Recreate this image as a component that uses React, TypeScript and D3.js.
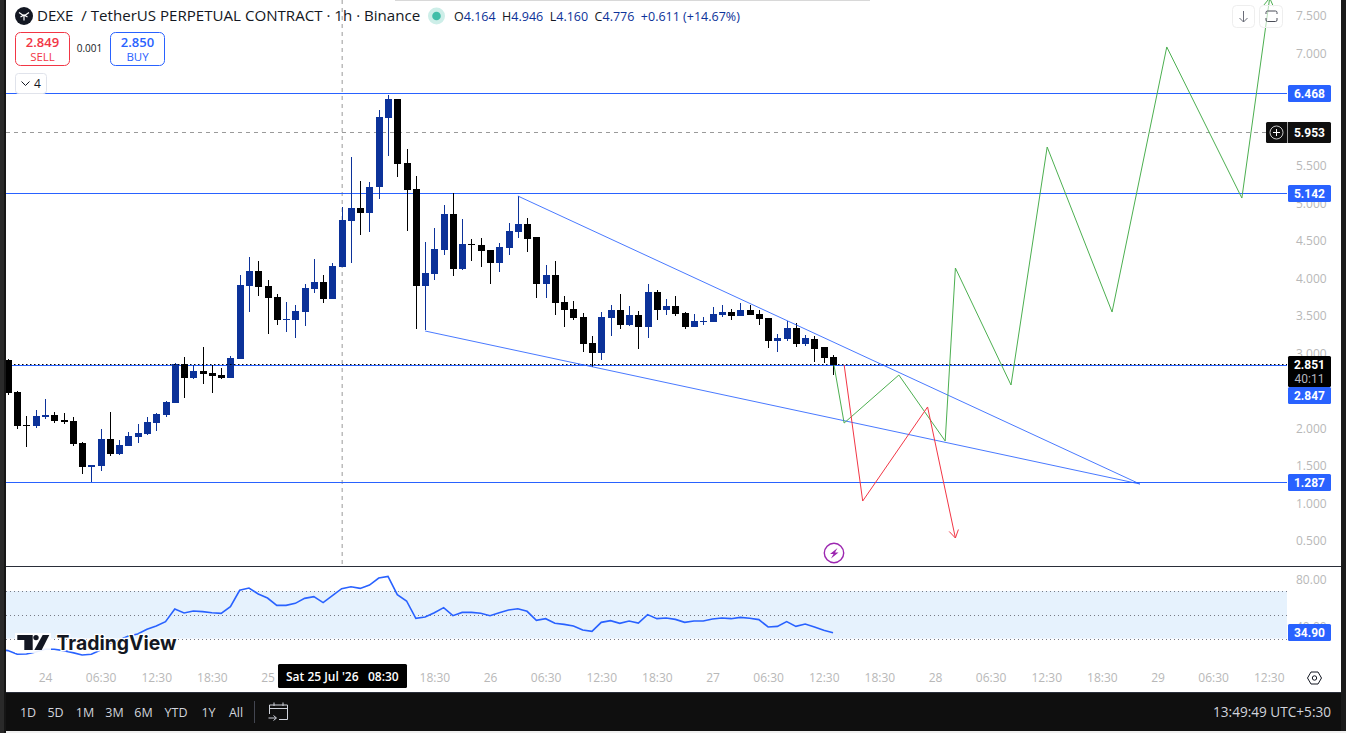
import { useEffect, useRef } from "react";
import * as d3 from "d3";

// candles are hourly, hour 0 is the "24" label on the time axis
const firstHour = -4;
const opens = [2.913, 2.487, 2.047, 2.033, 2.153, 2.18, 2.113, 2.1, 1.807, 1.487, 1.5, 1.86, 1.66, 1.767, 1.887, 1.927, 2.073, 2.18, 2.34, 2.86, 2.673, 2.767, 2.74, 2.713, 2.673, 2.927, 3.9, 4.1, 3.9, 3.753, 3.447, 3.447, 3.553, 3.86, 3.953, 3.727, 4.153, 4.767, 4.94, 4.873, 5.22, 6.14, 6.393, 5.54, 5.193, 3.9, 4.06, 4.38, 4.86, 4.127, 4.46, 4.447, 4.38, 4.207, 4.407, 4.62, 4.727, 4.553, 3.927, 4.047, 3.687, 3.593, 3.487, 3.14, 3.007, 3.473, 3.58, 3.38, 3.513, 3.353, 3.82, 3.58, 3.633, 3.54, 3.353, 3.42, 3.42, 3.513, 3.553, 3.5, 3.58, 3.527, 3.473, 3.167, 3.193, 3.34, 3.127, 3.193, 3.087, 2.953];
const highs = [2.927, 2.5, 2.167, 2.247, 2.393, 2.22, 2.207, 2.153, 1.82, 1.513, 1.993, 2.22, 1.847, 1.953, 2.06, 2.153, 2.207, 2.367, 2.873, 2.953, 2.847, 3.087, 2.847, 2.807, 2.967, 4.047, 4.287, 4.233, 3.98, 3.793, 3.687, 3.647, 3.927, 4.26, 4.047, 4.207, 4.953, 5.62, 5.3, 5.287, 6.247, 6.447, 6.393, 5.727, 5.367, 4.487, 4.673, 4.98, 5.14, 4.793, 4.527, 4.54, 4.38, 4.473, 4.74, 5.1, 4.807, 4.553, 4.18, 4.233, 3.767, 3.7, 3.54, 3.233, 3.553, 3.647, 3.793, 3.633, 3.567, 3.927, 3.847, 3.727, 3.767, 3.553, 3.527, 3.487, 3.62, 3.647, 3.593, 3.673, 3.647, 3.58, 3.473, 3.26, 3.433, 3.407, 3.247, 3.233, 3.087, 2.98];
const lows = [2.447, 1.993, 1.753, 2.007, 2.127, 2.073, 2.06, 1.767, 1.393, 1.287, 1.433, 1.633, 1.647, 1.767, 1.807, 1.913, 1.967, 2.153, 2.34, 2.407, 2.66, 2.593, 2.473, 2.66, 2.673, 2.927, 3.553, 3.767, 3.26, 3.38, 3.287, 3.207, 3.367, 3.807, 3.673, 3.727, 4.153, 4.207, 4.58, 4.62, 5.06, 5.633, 5.353, 4.633, 3.327, 3.313, 3.98, 4.313, 4.033, 4.113, 4.233, 4.153, 3.927, 4.087, 4.313, 4.54, 4.353, 3.74, 3.74, 3.513, 3.353, 3.447, 3.02, 2.82, 2.913, 3.233, 3.327, 3.367, 3.06, 3.207, 3.447, 3.513, 3.5, 3.327, 3.353, 3.38, 3.42, 3.487, 3.447, 3.5, 3.513, 3.38, 3.073, 3.02, 3.167, 3.087, 3.1, 2.887, 2.873, 2.713];
const closes = [2.473, 2.033, 2.033, 2.167, 2.18, 2.1, 2.087, 1.793, 1.487, 1.513, 1.86, 1.66, 1.78, 1.9, 1.94, 2.087, 2.193, 2.353, 2.86, 2.673, 2.767, 2.727, 2.7, 2.673, 2.94, 3.913, 4.1, 3.887, 3.74, 3.447, 3.46, 3.567, 3.873, 3.953, 3.727, 4.167, 4.78, 4.94, 4.873, 5.22, 6.153, 6.393, 5.527, 5.18, 3.9, 4.073, 4.393, 4.86, 4.127, 4.46, 4.447, 4.367, 4.207, 4.42, 4.633, 4.727, 4.527, 3.927, 4.047, 3.673, 3.58, 3.473, 3.127, 3.007, 3.487, 3.58, 3.38, 3.513, 3.353, 3.82, 3.58, 3.633, 3.527, 3.353, 3.433, 3.433, 3.527, 3.553, 3.5, 3.58, 3.513, 3.46, 3.167, 3.207, 3.34, 3.127, 3.207, 3.06, 2.94, 2.847];

// first value sits one bar left of the first candle, it only runs off the pane
const rsiValues = [21, 19.8, 16.7, 16.9, 18.6, 20.9, 20.9, 19.8, 18.1, 16.1, 16.7, 20.3, 25.9, 28.7, 32.1, 33.8, 37.7, 40.5, 44.2, 54.8, 51.5, 53.2, 52.6, 51.7, 51.2, 56.8, 70.6, 72.5, 67.5, 64.1, 57.9, 57.9, 59.6, 63.8, 65.2, 60.2, 66.1, 72, 73.6, 72.2, 75, 80.9, 82.3, 66.9, 61.6, 47, 48.1, 51.7, 56, 49.2, 52, 52, 51.2, 49.2, 51.7, 54, 55.1, 52.9, 45.3, 46.7, 42.8, 41.9, 40.5, 37.2, 36, 43.6, 45, 42.8, 44.7, 43, 50.1, 46.7, 47.3, 46.1, 43.6, 44.7, 44.7, 46.4, 47.3, 46.7, 47.8, 47, 45.9, 39.7, 40.2, 44.2, 40.2, 42.2, 39.7, 36.9, 34.9];

const priceTicks = [0.5, 1, 1.5, 2, 3, 4, 3.5, 4.5, 5, 5.5, 7, 7.5];
const rsiTicks = [80, 40];
const rsiLevels = [70, 50, 30];
const timeTicks = [0, 6, 12, 18, 24, 42, 48, 54, 60, 66, 72, 78, 84, 90, 96, 102, 108, 114, 120, 126, 132];
const timeLabels = ["24", "06:30", "12:30", "18:30", "25", "18:30", "26", "06:30", "12:30", "18:30", "27", "06:30", "12:30", "18:30", "28", "06:30", "12:30", "18:30", "29", "06:30", "12:30"];
const ranges = ["1D", "5D", "1M", "3M", "6M", "YTD", "1Y", "All"];
const rangeX = [28, 55.5, 85, 114.5, 143.5, 176, 208.5, 236];

// drawings: [hour, price]
const wedgeUpper: [number, number][] = [[51, 5.1], [118.1, 1.26]];
const wedgeLower: [number, number][] = [[41, 3.3], [118.1, 1.26]];
const greenPath: [number, number][] = [[85.1, 2.847], [86.2, 2.073], [92.1, 2.713], [97.1, 1.833], [98.2, 4.14], [104.2, 2.58], [108.1, 5.753], [115.1, 3.553], [121, 7.087], [129.1, 5.073], [132.1, 7.74]];
const redPath: [number, number][] = [[86.2, 2.847], [88.2, 1.033], [95.2, 2.287], [98.2, 0.54]];

const levels = [6.468, 5.142, 2.847, 1.287];
const crossPrice = 5.953;
const crossHour = 32;
const lastPrice = 2.851;

const x = d3.scaleLinear().domain([0, 24]).range([45, 267.5]);
const y = d3.scaleLinear().domain([0.5, 7.5]).range([541, 16]);
const rsiY = d3.scaleLinear().domain([30, 70]).range([638.5, 591]);

const FONT = '"Open Sans", sans-serif';
const TAG_FONT = "Roboto, sans-serif";
const UP = "#0c3299";
const DOWN = "#000000";
const BLUE = "#2962ff";
const AXIS_TEXT = "#b8b8b8";

const lineGen = d3.line<[number, number]>().x((d) => x(d[0])).y((d) => y(d[1]));

function arrowHead(pts: [number, number][]) {
    const a = pts[pts.length - 2];
    const b = pts[pts.length - 1];
    const x1 = x(a[0]), y1 = y(a[1]), x2 = x(b[0]), y2 = y(b[1]);
    const ang = Math.atan2(y2 - y1, x2 - x1);
    const len = 9;
    const p1 = [x2 - len * Math.cos(ang - 0.55), y2 - len * Math.sin(ang - 0.55)];
    const p2 = [x2 - len * Math.cos(ang + 0.55), y2 - len * Math.sin(ang + 0.55)];
    return `M${p1[0]},${p1[1]}L${x2},${y2}L${p2[0]},${p2[1]}`;
}

function Tag({ cy, text, fill = BLUE, h = 17 }: { cy: number; text: string; fill?: string; h?: number }) {
    return (
        <g>
            <rect x={1288} y={cy - h / 2} width={43} height={h} rx={1.5} fill={fill} />
            <text x={1309.5} y={cy + 4.3} textAnchor="middle" fontSize={12} fontWeight={700} fill="#fff" fontFamily={TAG_FONT}>{text}</text>
        </g>
    );
}

export default function App() {
    const priceAxisRef = useRef<SVGGElement | null>(null);
    const rsiAxisRef = useRef<SVGGElement | null>(null);
    const timeAxisRef = useRef<SVGGElement | null>(null);

    useEffect(() => {
        const price = d3.select(priceAxisRef.current!);
        price.call(d3.axisRight(y).tickValues(priceTicks).tickFormat(d3.format(".3f") as any).tickSize(0).tickPadding(0));
        const rsi = d3.select(rsiAxisRef.current!);
        rsi.call(d3.axisRight(rsiY).tickValues(rsiTicks).tickFormat(d3.format(".2f") as any).tickSize(0).tickPadding(0));
        const time = d3.select(timeAxisRef.current!);
        time.call(d3.axisBottom(x).tickValues(timeTicks).tickFormat((_, i) => timeLabels[i]).tickSize(0).tickPadding(0));

        [price, rsi, time].forEach((g) => {
            g.select(".domain").remove();
            g.selectAll("text").attr("fill", AXIS_TEXT).style("font-family", FONT).style("font-size", "12px");
        });
    }, []);

    const candleHours = opens.map((_, i) => firstHour + i);
    const rsiLine = d3.line<number>().x((_, i) => x(firstHour - 1 + i)).y((d) => rsiY(d));

    return (
        <svg width={1346} height={733} style={{ position: "fixed", left: 0, top: 0, display: "block", background: "#fff" }}>
            <defs>
                <clipPath id="pane"><rect x={6} y={0} width={1281} height={566} /></clipPath>
                <clipPath id="rsiPane"><rect x={6} y={567} width={1281} height={95} /></clipPath>
            </defs>

            {/* rsi pane */}
            <g clipPath="url(#rsiPane)">
                <rect x={6} y={rsiY(70)} width={1281} height={rsiY(30) - rsiY(70)} fill="#e6f2fd" />
                {rsiLevels.map((l) => (
                    <line key={l} x1={6} x2={1287} y1={Math.round(rsiY(l)) + 0.5} y2={Math.round(rsiY(l)) + 0.5} stroke="#787b86" strokeDasharray="1 3" />
                ))}
                <path d={rsiLine(rsiValues)!} fill="none" stroke={BLUE} strokeWidth={1.6} />
            </g>

            {/* main pane */}
            <g clipPath="url(#pane)">
                <line x1={x(crossHour) + 0.5} x2={x(crossHour) + 0.5} y1={0} y2={566} stroke="#9a9a9a" strokeDasharray="4 4" />
                {levels.map((l) => (
                    <line key={l} x1={6} x2={1287} y1={Math.round(y(l)) + 0.5} y2={Math.round(y(l)) + 0.5} stroke={BLUE} />
                ))}
                <line x1={6} x2={1287} y1={Math.round(y(crossPrice)) + 0.5} y2={Math.round(y(crossPrice)) + 0.5} stroke="#9a9a9a" strokeDasharray="4 4" />
                {opens.map((o, i) => {
                    const cx = Math.round(x(candleHours[i]));
                    const c = closes[i];
                    const color = c >= o ? UP : DOWN;
                    const top = y(Math.max(o, c));
                    const bottom = y(Math.min(o, c));
                    return (
                        <g key={i} shapeRendering="crispEdges">
                            <line x1={cx + 0.5} x2={cx + 0.5} y1={y(highs[i])} y2={y(lows[i])} stroke={color} />
                            <rect x={cx - 3} y={top} width={7} height={Math.max(bottom - top, 1)} fill={color} />
                        </g>
                    );
                })}
                <line x1={6} x2={1287} y1={Math.round(y(lastPrice)) - 0.5} y2={Math.round(y(lastPrice)) - 0.5} stroke="#000" strokeDasharray="1.5 2.5" />
                <path d={lineGen(wedgeUpper)!} fill="none" stroke={BLUE} strokeOpacity={0.85} />
                <path d={lineGen(wedgeLower)!} fill="none" stroke={BLUE} strokeOpacity={0.85} />
                <path d={lineGen(greenPath)!} fill="none" stroke="#4caf50" />
                <path d={arrowHead(greenPath)} fill="none" stroke="#4caf50" />
                <path d={lineGen(redPath)!} fill="none" stroke="#f23645" />
                <path d={arrowHead(redPath)} fill="none" stroke="#f23645" />

                {/* lightning marker */}
                <circle cx={834} cy={553} r={9.7} fill="#fff" stroke="#9c27b0" strokeWidth={1.4} />
                <path d="M837.5,548 L830,554 L833.5,554 L831,558.5 L838.5,552.5 L835,552.5 Z" fill="#9c27b0" />
            </g>

            {/* tradingview logo */}
            <g>
                <rect x={15} y={633} width={36} height={20} fill="#fff" opacity={0.9} />
                <path d="M17.3,635 H32.7 V650 H24.3 V640 H17.3 Z" fill="#131722" />
                <circle cx={36} cy={637.6} r={2.7} fill="#131722" />
                <path d="M42.7,635 H49.3 L41.7,650 H34.3 Z" fill="#131722" />
                <text x={56.5} y={650} fontSize={19.4} fontWeight={700} fill="#131722" fontFamily="Inter, sans-serif" stroke="#fff" strokeWidth={2.5} paintOrder="stroke">TradingView</text>
            </g>

            {/* separators and chrome */}
            <rect x={6} y={566} width={1335} height={1} fill="#2a2e39" />
            <rect x={0} y={0} width={4} height={733} fill="#2a2a2a" />
            <rect x={4} y={0} width={2} height={733} fill="#161616" />
            <rect x={1341} y={0} width={5} height={733} fill="#1a1a1a" />
            <rect x={395} y={0} width={475} height={1} fill="#d8d8d8" />

            {/* axes */}
            <g ref={priceAxisRef} transform="translate(1296,0)" />
            <g ref={rsiAxisRef} transform="translate(1296,0.5)" />
            <g ref={timeAxisRef} transform="translate(0,673)" />

            {/* crosshair date */}
            <rect x={278} y={664} width={129} height={24} rx={1.5} fill="#000" />
            <text x={286} y={680.5} fontSize={12} fontWeight={600} fill="#fff" fontFamily={FONT}>Sat 25 Jul '26</text>
            <text x={368} y={680.5} fontSize={12} fontWeight={600} fill="#fff" fontFamily={FONT}>08:30</text>

            {/* settings hexagon */}
            <path d="M1307.5,678 L1311,672 H1318 L1321.5,678 L1318,684 H1311 Z" fill="none" stroke="#131722" strokeWidth={1} />
            <circle cx={1314.5} cy={678} r={2.2} fill="none" stroke="#131722" />

            {/* price tags */}
            <Tag cy={93.5} text="6.468" />
            <Tag cy={193.5} text="5.142" />
            <Tag cy={395.5} text="2.847" />
            <Tag cy={482.5} text="1.287" />
            <Tag cy={632.5} text="34.90" />
            <rect x={1266} y={122} width={65} height={21} rx={1.5} fill="#0f0f0f" />
            <rect x={1287} y={122} width={1} height={21} fill="#fff" opacity={0.6} />
            <circle cx={1276.5} cy={132.5} r={6.5} fill="none" stroke="#c8c8c8" />
            <path d="M1273,132.5 H1280 M1276.5,129 V136" stroke="#fff" />
            <text x={1309.5} y={136.8} textAnchor="middle" fontSize={12} fontWeight={700} fill="#fff" fontFamily={TAG_FONT}>5.953</text>
            <rect x={1288} y={356} width={43} height={31} rx={1.5} fill="#000" />
            <text x={1309.5} y={369} textAnchor="middle" fontSize={12} fontWeight={700} fill="#fff" fontFamily={TAG_FONT}>2.851</text>
            <text x={1309.5} y={383} textAnchor="middle" fontSize={12} fill="#b2b5be" fontFamily={TAG_FONT}>40:11</text>

            {/* top right buttons */}
            <rect x={1232.5} y={5.5} width={22} height={22} rx={4} fill="#fff" stroke="#eeeeee" />
            <path d="M1243.5,11 V22 M1239.5,18 L1243.5,22 L1247.5,18" fill="none" stroke="#6a6d78" />
            <rect x={1259.5} y={5.5} width={23} height={22} rx={4} fill="#fff" fillOpacity={0.6} stroke="#eeeeee" />
            <path d="M1266,14 V12.5 A1.5,1.5 0 0 1 1267.5,11 H1275.5 A1.5,1.5 0 0 1 1277,12.5 V14 M1266,18 V20 A1.5,1.5 0 0 0 1267.5,21.5 H1275.5 A1.5,1.5 0 0 0 1277,20 V18" fill="none" stroke="#4a4d58" />

            {/* header */}
            <circle cx={24} cy={16} r={9} fill="#131722" />
            <path d="M19,12.5 L24,16 L29,12.5 M24,16 V20.5 M20.5,17 L24,15 L27.5,17" fill="none" stroke="#fff" strokeWidth={1.2} />
            <text x={37} y={21} fontSize={15.1} fill="#131722" fontFamily={FONT} xmlSpace="preserve">DEXE  / TetherUS PERPETUAL CONTRACT · 1h · Binance</text>
            <circle cx={436.5} cy={16} r={8.5} fill="#cdeee8" />
            <circle cx={436.5} cy={16} r={4.3} fill="#42bda8" />
            <text x={454} y={20.5} fontSize={12.5} fill={UP} fontFamily={FONT} xmlSpace="preserve">
                <tspan fill="#131722">O</tspan>4.164 <tspan fill="#131722"> H</tspan>4.946 <tspan fill="#131722"> L</tspan>4.160 <tspan fill="#131722"> C</tspan>4.776  +0.611 (+14.67%)
            </text>

            {/* sell / buy */}
            <rect x={15.5} y={32.5} width={54} height={33} rx={5} fill="#fff" stroke="#f23645" />
            <text x={42.5} y={46.5} textAnchor="middle" fontSize={13} fontWeight={600} fill="#f23645" fontFamily={FONT}>2.849</text>
            <text x={42.5} y={60.5} textAnchor="middle" fontSize={11.5} fill="#f23645" fontFamily={FONT}>SELL</text>
            <text x={89.5} y={52} textAnchor="middle" fontSize={10} fill="#131722" fontFamily={FONT}>0.001</text>
            <rect x={110.5} y={32.5} width={54} height={33} rx={5} fill="#fff" stroke={BLUE} />
            <text x={137.5} y={46.5} textAnchor="middle" fontSize={13} fontWeight={600} fill={BLUE} fontFamily={FONT}>2.850</text>
            <text x={137.5} y={60.5} textAnchor="middle" fontSize={11.5} fill={BLUE} fontFamily={FONT}>BUY</text>
            <rect x={15.5} y={73.5} width={31} height={20} rx={3} fill="#fff" stroke="#e0e3eb" />
            <path d="M21.5,81.5 L25.5,85.5 L29.5,81.5" fill="none" stroke="#131722" />
            <text x={34} y={88} fontSize={12} fill="#131722" fontFamily={FONT}>4</text>

            {/* bottom toolbar */}
            <rect x={6} y={692} width={1335} height={39} fill="#0f0f0f" />
            <rect x={6} y={692} width={1335} height={1} fill="#2a2e39" />
            <rect x={6} y={731} width={1340} height={2} fill="#f0f0f0" />
            {ranges.map((r, i) => (
                <text key={r} x={rangeX[i]} y={716.5} textAnchor="middle" fontSize={12.5} fill="#d1d4dc" fontFamily={FONT}>{r}</text>
            ))}
            <rect x={254} y={701} width={1} height={22} fill="#434651" />
            <path d="M269.5,705 H287.5 V719.5 H279 M269.5,705 V714 M269.5,708.5 H287.5 M274,702.5 V706 M283,702.5 V706 M268.5,718 H276 M273.5,715.5 L276.5,718 L273.5,720.5" fill="none" stroke="#d1d4dc" />
            <text x={1331} y={716.5} textAnchor="end" fontSize={13.6} fill="#d1d4dc" fontFamily={FONT}>13:49:49 UTC+5:30</text>
        </svg>
    );
}
